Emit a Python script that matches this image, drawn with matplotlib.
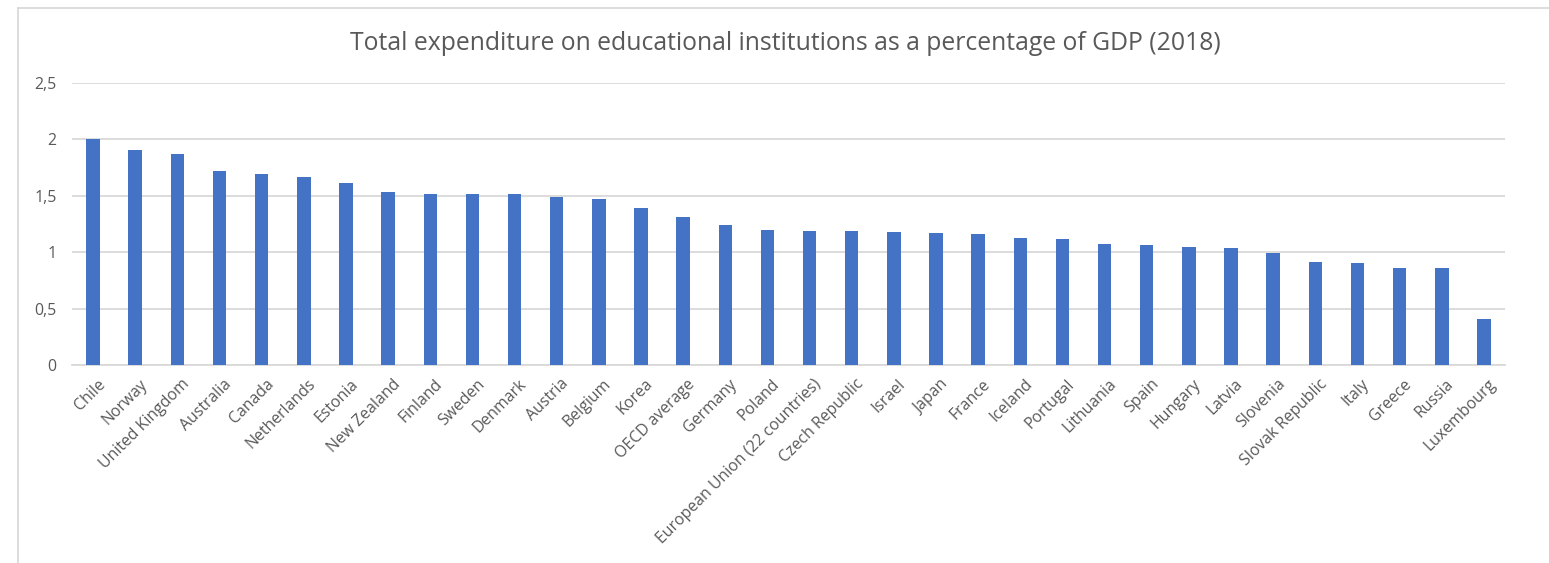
import numpy as np
import matplotlib
matplotlib.use('Agg')
import matplotlib.pyplot as plt
import matplotlib.transforms as mtransforms
from matplotlib.lines import Line2D

plt.rcParams['font.family'] = ['Open Sans', 'DejaVu Sans']

# data
countries = ['Chile', 'Norway', 'United Kingdom', 'Australia', 'Canada', 'Netherlands',
             'Estonia', 'New Zealand', 'Finland', 'Sweden', 'Denmark', 'Austria',
             'Belgium', 'Korea', 'OECD average', 'Germany', 'Poland',
             'European Union (22 countries)', 'Czech Republic', 'Israel', 'Japan',
             'France', 'Iceland', 'Portugal', 'Lithuania', 'Spain', 'Hungary',
             'Latvia', 'Slovenia', 'Slovak Republic', 'Italy', 'Greece', 'Russia',
             'Luxembourg']
expenditure = [2.00, 1.91, 1.87, 1.72, 1.69, 1.67, 1.61, 1.53, 1.52, 1.52, 1.52,
               1.49, 1.47, 1.39, 1.31, 1.24, 1.20, 1.19, 1.19, 1.18, 1.17, 1.16,
               1.13, 1.12, 1.07, 1.06, 1.05, 1.04, 0.99, 0.91, 0.90, 0.86, 0.86,
               0.41]
yticks = [0, 0.5, 1, 1.5, 2, 2.5]
ytick_labels = ['0', '0,5', '1', '1,5', '2', '2,5']

TXT = '#595959'
BAR = '#4472C4'
GRID = '#D9D9D9'

W, H = 1549, 563
fig = plt.figure(figsize=(W / 100, H / 100), dpi=100)
ax = fig.add_axes([72 / W, 1 - 365 / H, (1505 - 72) / W, (365 - 83) / H])

x = np.arange(len(countries))
ax.bar(x, expenditure, width=0.32, color=BAR, zorder=3)

ax.set_xlim(-0.5, len(countries) - 0.5)
ax.set_ylim(0, 2.5)
ax.set_yticks(yticks)
ax.set_yticklabels(ytick_labels)
ax.yaxis.grid(True, color=GRID, linewidth=1.3, zorder=0)
ax.set_xticks(x)
ax.set_xticklabels(countries, rotation=45, ha='right', va='top', rotation_mode='anchor')
for s in ['top', 'right', 'left']:
    ax.spines[s].set_visible(False)
ax.spines['bottom'].set_color(GRID)
ax.spines['bottom'].set_linewidth(1.3)
ax.tick_params(axis='both', length=0, colors=TXT, labelsize=11.4)
ax.tick_params(axis='y', pad=11)
ax.tick_params(axis='x', pad=8)

# nudge the rotated labels a little to the right, like the Excel layout
shift = mtransforms.ScaledTranslation(4 / 100, 0, fig.dpi_scale_trans)
for lab in ax.get_xticklabels():
    lab.set_transform(lab.get_transform() + shift)

fig.text(785 / W, 1 - 44 / H, 'Total expenditure on educational institutions as a percentage of GDP (2018)',
         ha='center', va='center', fontsize=17.8, color=TXT)

# chart frame (top and left edges visible in the screenshot)
fig.add_artist(Line2D([17.5 / W, 1], [1 - 7.5 / H, 1 - 7.5 / H], color=GRID, lw=1.3))
fig.add_artist(Line2D([17.5 / W, 17.5 / W], [0, 1 - 7.5 / H], color=GRID, lw=1.3))

fig.savefig('out.png', dpi=100)
